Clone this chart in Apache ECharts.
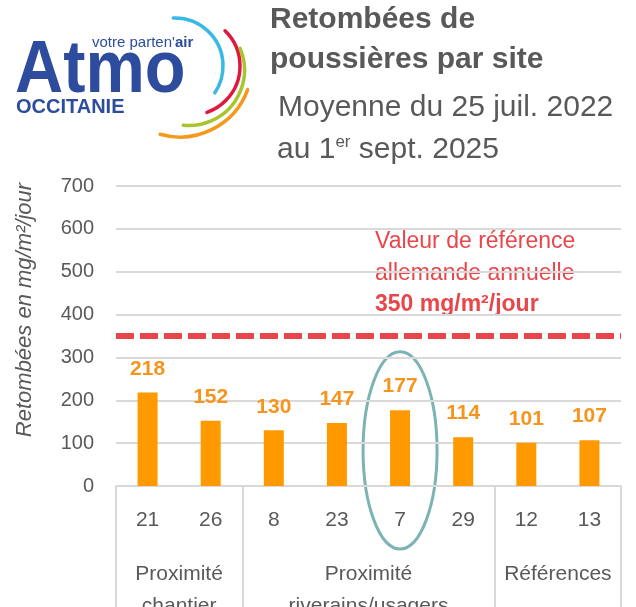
<!DOCTYPE html>
<html>
<head>
<meta charset="utf-8">
<title>Retombées de poussières par site</title>
<script src="https://cdn.jsdelivr.net/npm/echarts@6/dist/echarts.min.js"></script>
<style>
  html, body { margin: 0; padding: 0; background: #fff; }
  #chart { width: 636px; height: 607px; }
</style>
</head>
<body>
<div id="chart"></div>
<script>
// sites (x categories) and mean dust fallout, mg/m²/jour
var sites = ['21', '26', '8', '23', '7', '29', '12', '13'];
var values = [218, 152, 130, 147, 177, 114, 101, 107];

// site groups along the x axis
var groupNames = ['Proximité\nchantier', 'Proximité\nriverains/usagers', 'Références'];
var groupSizes = [2, 4, 2];

// y axis
var yMin = 0, yMax = 700, yStep = 100;
var yName = 'Retombées en mg/m²/jour';

// german reference value
var refValue = 350;
var refLines = ['Valeur de référence', 'allemande annuelle', '350 mg/m²/jour'];

var highlightSite = '7';

var GREY = '#595959', LIGHT = '#d9d9d9', ORANGE = '#FF9900', RED = '#E8464A';
var FONT = '"Liberation Sans", Arial, sans-serif';

// group boundaries and centres, in category units
var bounds = [0], centers = [];
groupSizes.forEach(function (n, i) {
	var start = bounds[i];
	bounds.push(start + n);
	centers.push(start + n / 2);
});

var chart = echarts.init(document.getElementById('chart'));

function txt(id, x, y, text, font, color, extra) {
	var el = {
		type: 'text', id: id, x: x, y: y, silent: true,
		style: { text: text, font: font, fill: color, textAlign: 'left', textVerticalAlign: 'middle' }
	};
	for (var k in extra) { el[k] = extra[k]; }
	return el;
}

function arc(id, cx, cy, r, a0, a1, color) {
	return {
		type: 'arc', id: id, silent: true,
		shape: { cx: cx, cy: cy, r: r, startAngle: a0 * Math.PI / 180, endAngle: a1 * Math.PI / 180, clockwise: true },
		style: { stroke: color, lineWidth: 3.5, fill: null, lineCap: 'round' }
	};
}

var graphics = [
	// logo
	arc('arc1', 175, 66, 48, -92, 34, '#3BB9E5'),
	arc('arc2', 191, 66, 49, -46, 71, '#E2173F'),
	arc('arc3', 189, 70, 55.5, -23, 96, '#A8C530'),
	arc('arc4', 180, 65, 72, 20, 106, '#F39A1E'),
	txt('atmo', 15, 71, 'Atmo', 'bold 75px ' + FONT, '#2D4C9D', { scaleX: 0.89 }),
	{
		type: 'text', id: 'tag', x: 92, y: 43, silent: true,
		style: {
			text: "{a|votre parten'}{b|air}", textAlign: 'left', textVerticalAlign: 'middle',
			rich: {
				a: { fontSize: 15, fontFamily: FONT, fill: '#2D4C9D' },
				b: { fontSize: 15, fontFamily: FONT, fontWeight: 'bold', fill: '#2D4C9D' }
			}
		}
	},
	txt('occ', 16, 107, 'OCCITANIE', 'bold 20px ' + FONT, '#2D4C9D'),

	// title
	txt('t1', 270, 20, 'Retombées de', 'bold 30px ' + FONT, GREY),
	txt('t2', 270, 60, 'poussières par site', 'bold 30px ' + FONT, GREY),
	txt('t3', 278, 108, 'Moyenne du 25 juil. 2022', '30px ' + FONT, GREY),
	{
		type: 'text', id: 't4', x: 277, y: 150, silent: true,
		style: {
			text: '{n|au 1}{s|er}{n| sept. 2025}', textAlign: 'left', textVerticalAlign: 'middle',
			rich: {
				n: { fontSize: 30, fontFamily: FONT, fill: GREY, lineHeight: 32 },
				s: { fontSize: 17, fontFamily: FONT, fill: GREY, verticalAlign: 'top', lineHeight: 18 }
			}
		}
	},

	// y axis name
	txt('yname', 25, 310, yName, 'italic 22px ' + FONT, GREY, { rotation: Math.PI / 2 }),

	// reference text
	txt('r1', 375, 242, refLines[0], '23px ' + FONT, RED),
	txt('r2', 375, 274, refLines[1], '23px ' + FONT, RED),
	txt('r3', 375, 305, refLines[2], 'bold 23px ' + FONT, RED)
];
graphics[graphics.length - 4].style.textAlign = 'center';

var option = {
	animation: false,
	textStyle: { fontFamily: FONT },
	grid: { left: 116, right: 15, top: 186, bottom: 121, outerBoundsMode: 'none' },
	xAxis: [
		{
			type: 'category',
			data: sites,
			axisLine: { lineStyle: { color: LIGHT, width: 2 } },
			axisTick: { show: false },
			axisLabel: { fontSize: 21, color: GREY, margin: 24 }
		},
		{
			type: 'value',
			min: 0,
			max: sites.length,
			position: 'bottom',
			axisLine: { show: false },
			splitLine: { show: false },
			axisTick: { show: true, customValues: bounds, length: 121, lineStyle: { color: LIGHT, width: 2 } },
			axisLabel: {
				customValues: centers,
				fontSize: 21, lineHeight: 32, color: GREY, margin: 72,
				formatter: function (v) { return groupNames[centers.indexOf(v)] || ''; }
			}
		}
	],
	yAxis: {
		type: 'value',
		min: yMin, max: yMax, interval: yStep,
		axisLine: { show: false },
		axisTick: { show: false },
		axisLabel: { fontSize: 20, color: GREY, margin: 22 },
		splitLine: { lineStyle: { color: LIGHT, width: 2 } }
	},
	series: [{
		type: 'bar',
		data: values,
		barWidth: 20,
		itemStyle: { color: ORANGE },
		label: { show: true, position: 'top', distance: 13, fontSize: 21, fontWeight: 'bold', color: '#F7941D' },
		markLine: {
			silent: true,
			symbol: 'none',
			label: { show: false },
			lineStyle: { color: RED, width: 6, type: [18, 6] },
			data: [{ yAxis: refValue }]
		}
	}],
	graphic: graphics
};

chart.setOption(option);

// ellipse around the highlighted site, placed through the axes
var ringX = chart.convertToPixel({ xAxisIndex: 0 }, sites.indexOf(highlightSite));
var ringTop = chart.convertToPixel({ yAxisIndex: 0 }, 313);
var ringBottom = chart.convertToPixel({ yAxisIndex: 0 }, 0) + 63;
chart.setOption({
	graphic: [{
		type: 'ellipse', id: 'ring', silent: true,
		shape: { cx: ringX, cy: (ringTop + ringBottom) / 2, rx: 37, ry: (ringBottom - ringTop) / 2 },
		style: { stroke: '#7DB3B3', lineWidth: 3, fill: null }
	}]
});
</script>
</body>
</html>
